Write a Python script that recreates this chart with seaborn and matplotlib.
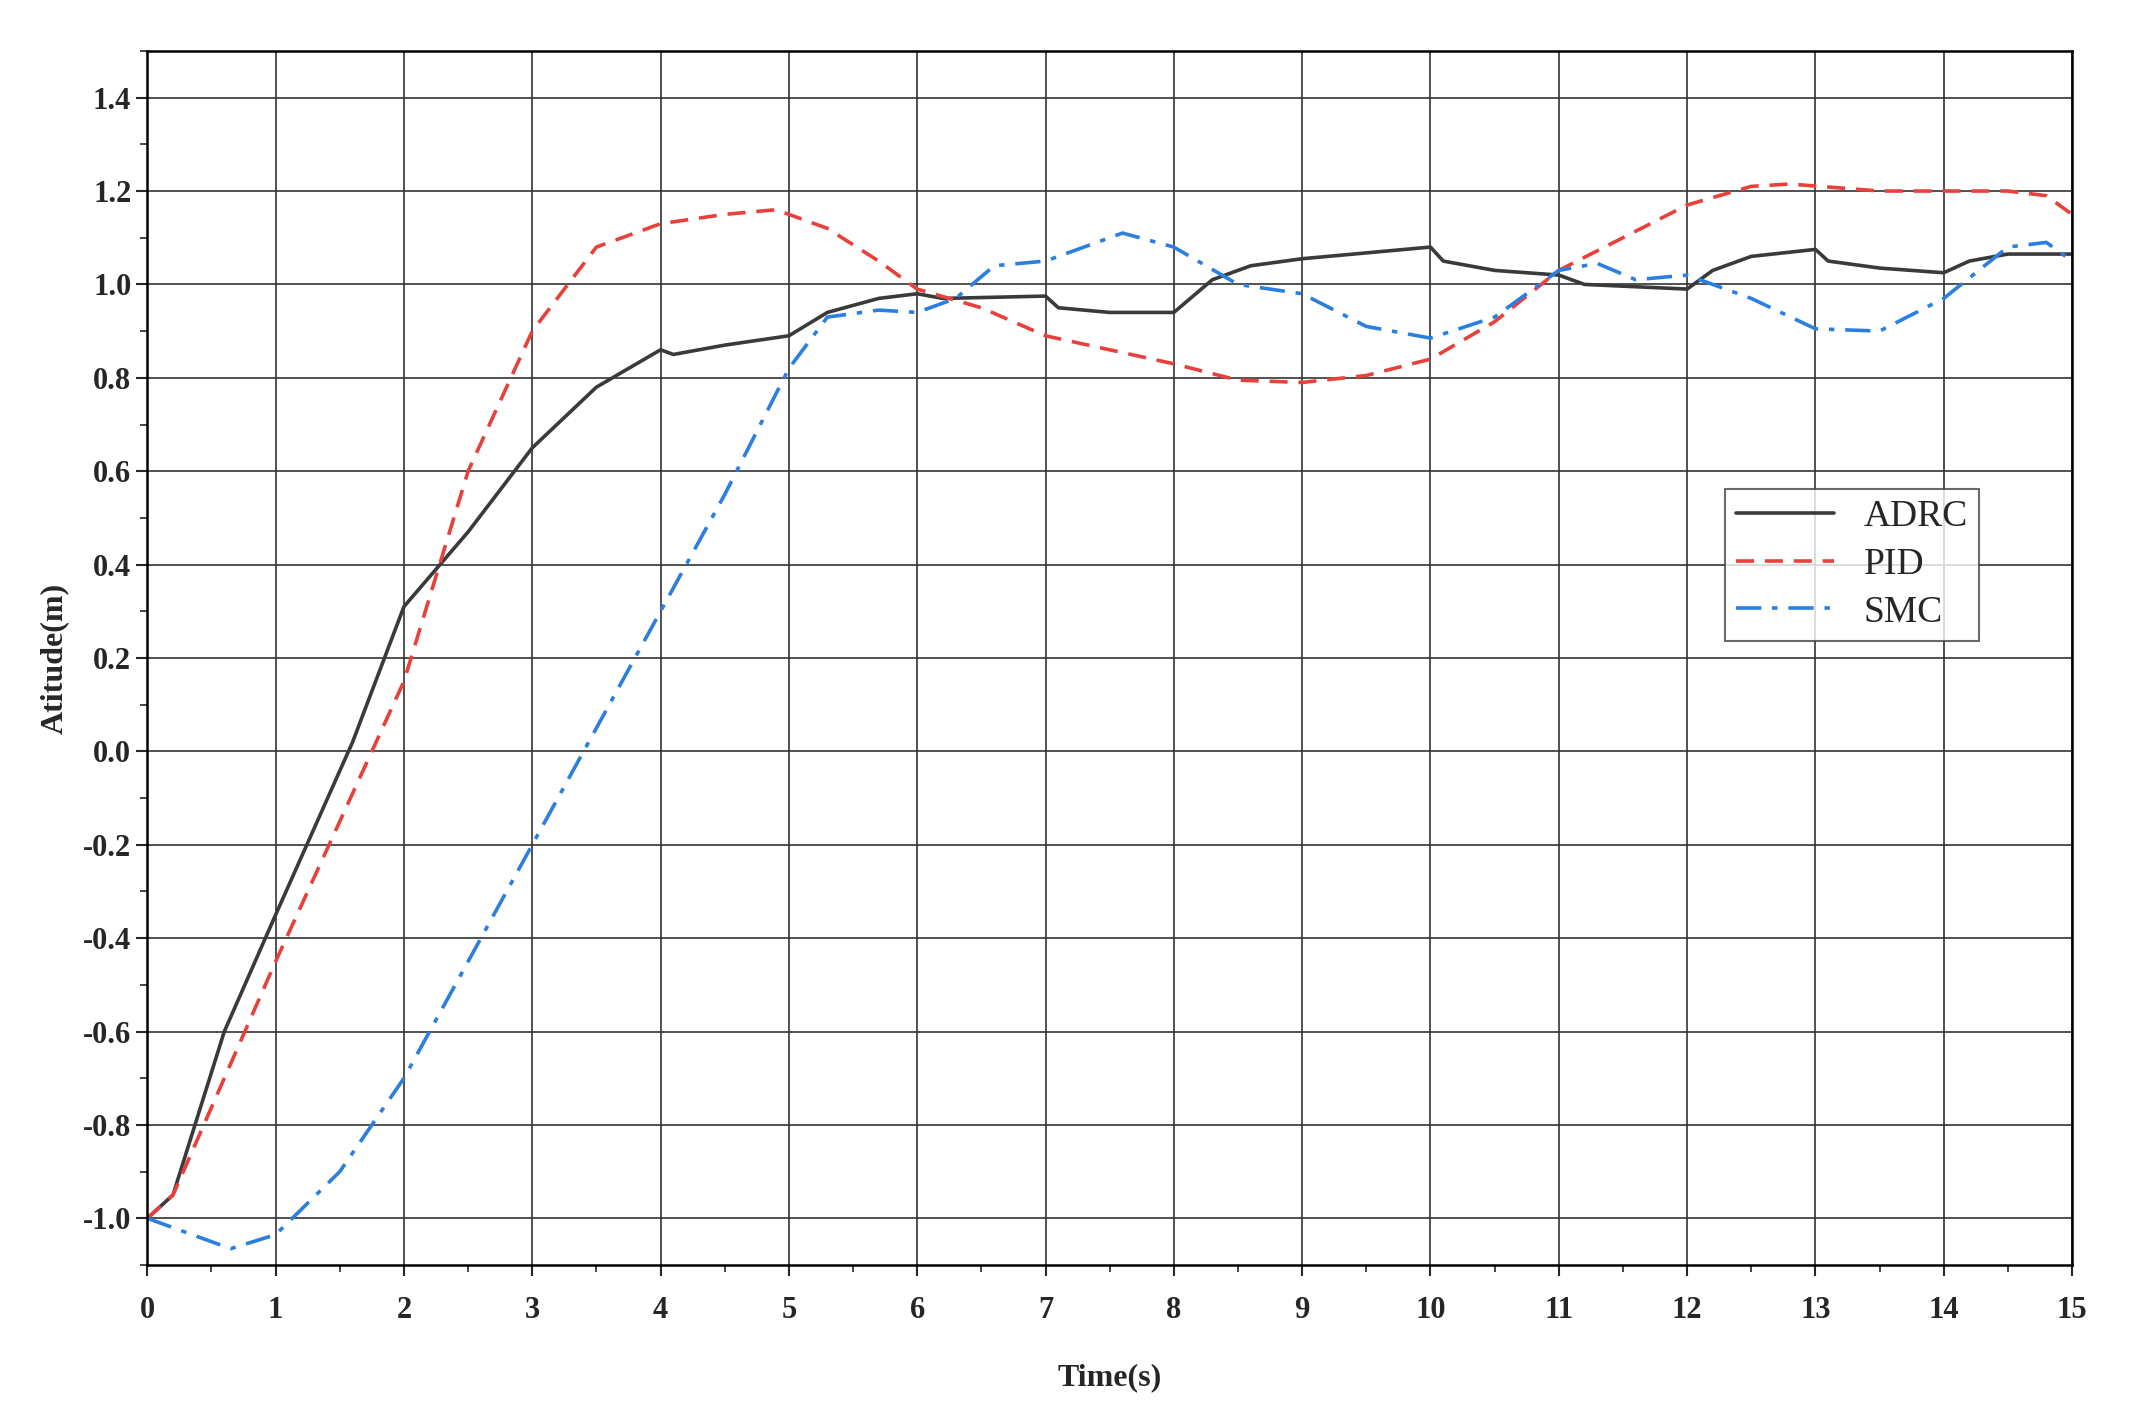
import matplotlib
matplotlib.use("Agg")
import matplotlib.pyplot as plt
import seaborn as sns
import pandas as pd
from matplotlib.ticker import MultipleLocator

sns.set_theme(style="white")
plt.rcParams['font.family'] = ['Liberation Serif', 'DejaVu Serif']

adrc_t = [0,0.2,0.6,1,1.6,2,2.5,3,3.5,4,4.1,4.5,5,5.3,5.7,6,6.2,7,7.1,7.5,8,8.3,8.6,9,10,10.1,10.5,11,11.2,12,12.2,12.5,13,13.1,13.5,14,14.2,14.5,15]
adrc_y = [-1,-0.95,-0.6,-0.35,0.02,0.31,0.47,0.65,0.78,0.86,0.85,0.87,0.89,0.94,0.97,0.98,0.97,0.975,0.95,0.94,0.94,1.01,1.04,1.055,1.08,1.05,1.03,1.02,1.0,0.99,1.03,1.06,1.075,1.05,1.035,1.025,1.05,1.065,1.065]
pid_t = [0,0.2,0.6,1,1.5,2,2.5,3,3.5,4,4.5,4.9,5.3,5.7,6,6.5,7,7.5,8,8.5,9,9.5,10,10.5,11,11.5,12,12.5,12.8,13.5,14,14.5,14.8,15]
pid_y = [-1,-0.95,-0.7,-0.45,-0.15,0.15,0.6,0.9,1.08,1.13,1.15,1.16,1.12,1.05,0.99,0.95,0.89,0.86,0.83,0.795,0.79,0.805,0.84,0.92,1.03,1.1,1.17,1.21,1.215,1.2,1.2,1.2,1.19,1.15]
smc_t = [0,0.3,0.65,1,1.5,2,2.5,3,3.5,4,4.5,5,5.3,5.7,6,6.3,6.6,7,7.3,7.6,8,8.5,9,9.5,10,10.5,11,11.3,11.6,12,12.5,13,13.5,14,14.5,14.8,15]
smc_y = [-1,-1.03,-1.065,-1.035,-0.9,-0.7,-0.45,-0.2,0.05,0.3,0.55,0.82,0.93,0.945,0.94,0.97,1.04,1.05,1.08,1.11,1.08,1.0,0.98,0.91,0.885,0.93,1.03,1.045,1.01,1.02,0.97,0.905,0.9,0.97,1.08,1.09,1.05]

fig = plt.figure(figsize=(21.35, 14.15), dpi=100)
ax = fig.add_axes([0.069, 0.106, 0.9015, 0.858])

sns.lineplot(x=adrc_t, y=adrc_y, ax=ax, color='#3a3a3a', lw=2.6, label='ADRC')
sns.lineplot(x=pid_t, y=pid_y, ax=ax, color='#e8413c', lw=2.6, ls=(0, (5, 3)), label='PID')
sns.lineplot(x=smc_t, y=smc_y, ax=ax, color='#2a7fe0', lw=2.6, ls=(0, (7, 3, 1.5, 3)), label='SMC')

ax.set_xlim(0, 15)
ax.set_ylim(-1.1, 1.5)
ax.xaxis.set_major_locator(MultipleLocator(1))
ax.xaxis.set_minor_locator(MultipleLocator(0.5))
ax.yaxis.set_major_locator(MultipleLocator(0.2))
ax.yaxis.set_minor_locator(MultipleLocator(0.1))
ax.yaxis.set_major_formatter(matplotlib.ticker.FormatStrFormatter('%.1f'))
ax.grid(True, which='major', color='#333333', lw=1.2)
ax.tick_params(which='major', direction='out', length=8, width=1.5, labelsize=22, bottom=True, left=True)
ax.tick_params(axis='x', which='major', pad=14)
ax.tick_params(which='minor', direction='out', length=5, width=1.2, bottom=True, left=True)
for lab in ax.get_xticklabels() + ax.get_yticklabels():
    lab.set_fontweight('bold')
for s in ax.spines.values():
    s.set_color('black'); s.set_linewidth(1.8)
ax.set_xlabel('Time(s)', fontsize=23, fontweight='bold', labelpad=28)
ax.set_ylabel('Atitude(m)', fontsize=23, fontweight='bold', labelpad=10)
leg = ax.legend(loc='upper left', bbox_to_anchor=(0.81, 0.655), fontsize=27, frameon=True,
                fancybox=False, edgecolor='#444444', handlelength=2.6, borderpad=0.3, labelspacing=0.35)
leg.get_frame().set_linewidth(1.5)
fig.savefig('out.png', dpi=100)
